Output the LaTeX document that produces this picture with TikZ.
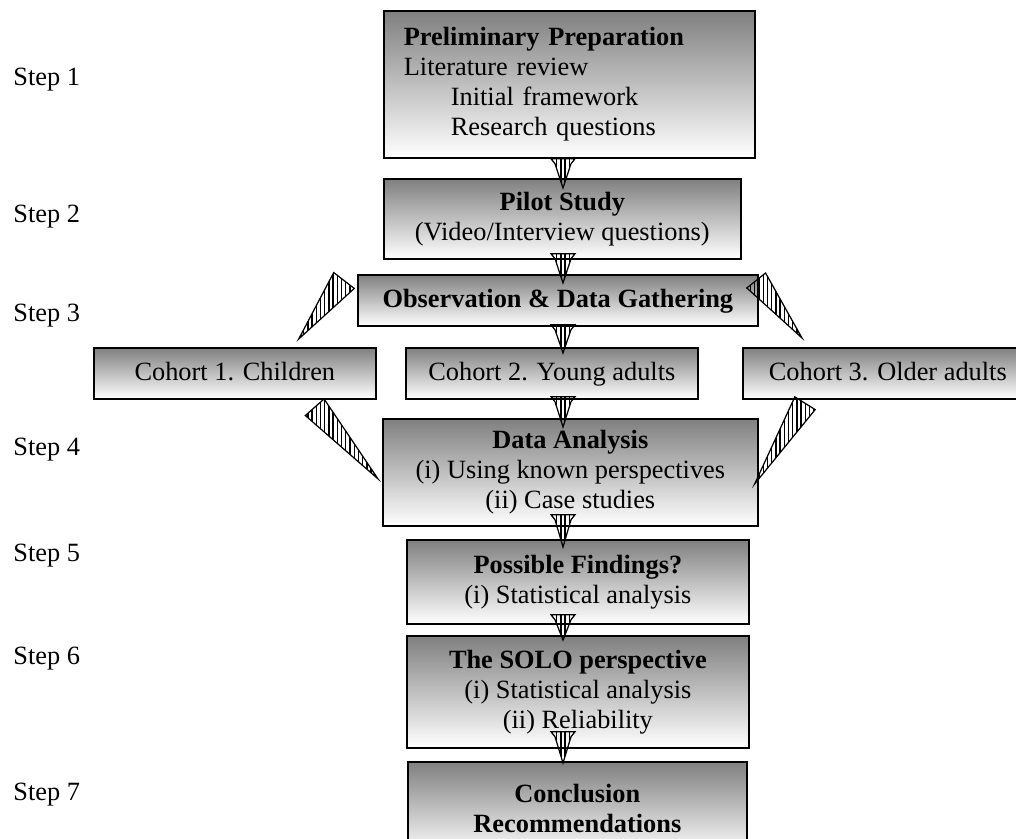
\documentclass[tikz,border=0pt]{standalone}
\usepackage{fontspec}
\setmainfont{Liberation Serif}
\usetikzlibrary{positioning,calc,patterns.meta}

\begin{document}
\begin{tikzpicture}[
    x=0.02cm, y=-0.02cm,
    box/.style={rectangle, draw=black, line width=1pt, top color=black!50, bottom color=white, anchor=north west, align=center, inner sep=0pt, font=\fontsize{15}{17}\selectfont},
    cohort/.style={box, minimum height=1.02cm, text height=11pt, text depth=3pt},
    steplabel/.style={anchor=base west, inner sep=0pt, font=\fontsize{15}{17}\selectfont},
    stripes/.style={draw=black, line width=0.7pt, pattern={Lines[angle=90, distance=2.4pt, line width=0.8pt]}},
]

% Frame
\useasboundingbox (0,0) rectangle (1016,838);
\clip (0,0) rectangle (1016,838);
\coordinate (col) at (563,0);

% Main column
\node[box, minimum width=7.42cm, minimum height=2.94cm, text width=6.62cm, align=left] (prep) at (383,10) {\textbf{Preliminary Preparation}\\Literature review\\\hspace*{0.94cm}Initial framework\\\hspace*{0.94cm}Research questions};
\node[box, minimum width=7.14cm, minimum height=1.6cm] (pilot) at (383,178) {\textbf{Pilot Study}\\(Video/Interview questions)};
\node[box, minimum width=8cm, minimum height=1.02cm, text height=11pt, text depth=3pt] (obs) at (357,274) {\textbf{Observation \& Data Gathering}};

% Cohorts
\node[cohort, minimum width=5.64cm] (coh1) at (93,347) {Cohort 1. Children};
\node[cohort, minimum width=5.84cm] (coh2) at (405,347) {Cohort 2. Young adults};
\node[cohort, minimum width=5.8cm] (coh3) at (742,347) {Cohort 3. Older adults};

% Analysis and after
\node[box, minimum width=7.5cm, minimum height=2.14cm] (data) at (382,418) {\textbf{Data Analysis}\\(i) Using known perspectives\\(ii) Case studies};
\node[box, minimum width=6.84cm, minimum height=1.68cm] (find) at (406,539) {\textbf{Possible Findings?}\\(i) Statistical analysis};
\node[box, minimum width=6.84cm, minimum height=2.24cm] (solo) at (406,635) {\textbf{The SOLO perspective}\\(i) Statistical analysis\\(ii) Reliability};
\node[box, minimum width=6.78cm, minimum height=1.86cm] (concl) at (407,761) {\textbf{Conclusion}\\\textbf{Recommendations}};

% Step labels
\node[steplabel] (st1) at (13,86) {Step 1};
\node[steplabel] (st2) at (13,222) {Step 2};
\node[steplabel] (st3) at (13,321) {Step 3};
\node[steplabel] (st4) at (13,455) {Step 4};
\node[steplabel] (st5) at (13,561) {Step 5};
\node[steplabel] (st6) at (13,664) {Step 6};
\node[steplabel] (st7) at (13,800) {Step 7};

% Down arrows (striped)
\foreach \a/\b/\sa/\eb in {prep/pilot/0/10, pilot/obs/-6/9, obs/coh2/-2/6, coh2/data/-3/9, data/find/-12/8, find/solo/-10/5, solo/concl/-17/2} {
  \coordinate (s) at ($(\a.south -| col)+(0,\sa)$);
  \coordinate (e) at ($(\b.north -| col)+(0,\eb)$);
  \draw[stripes] ($(s)+(-12,0)$) -- ($(s)+(12,0)$) -- ($(s)+(8,5)$) -- (e) -- ($(s)+(-8,5)$) -- cycle;
}

% Side wedges to and from the outer cohorts
\coordinate (w1) at ($(obs.north west)+(-13,6.5)$);
\coordinate (w1t) at ($(coh1.north east)+(-78,-8)$);
\draw[stripes] ($(w1)!0.26cm!90:(w1t)$) -- (w1t) -- ($(w1)!0.26cm!-90:(w1t)$) -- cycle;

\coordinate (w2) at ($(coh1.south east)+(-62,7.5)$);
\coordinate (w2t) at ($(data.west)+(-4,6.5)$);
\draw[stripes] ($(w2)!0.25cm!90:(w2t)$) -- (w2t) -- ($(w2)!0.25cm!-90:(w2t)$) -- cycle;

\coordinate (w3) at ($(obs.north east)+(-2.5,6.5)$);
\coordinate (w3t) at ($(coh3.north west)+(60,-9)$);
\draw[stripes] ($(w3)!0.24cm!90:(w3t)$) -- (w3t) -- ($(w3)!0.24cm!-90:(w3t)$) -- cycle;

\coordinate (w4) at ($(coh3.south west)+(63,3.5)$);
\coordinate (w4t) at ($(data.east)+(-4,11.5)$);
\draw[stripes] ($(w4)!0.24cm!90:(w4t)$) -- (w4t) -- ($(w4)!0.24cm!-90:(w4t)$) -- cycle;

\end{tikzpicture}
\end{document}
